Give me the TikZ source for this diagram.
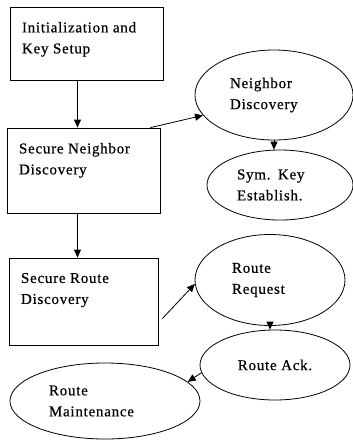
\documentclass[tikz,border=0pt]{standalone}
\usepackage{fontspec}
\setmainfont{Liberation Serif}[LetterSpace=5,FakeBold=0.5]
\usetikzlibrary{shapes.geometric,arrows.meta}

\newcommand{\boxtext}[3]{\begin{minipage}[t][#1][t]{#2}\vspace*{5pt}#3\end{minipage}}

\begin{document}
\begin{tikzpicture}[x=1pt,y=-1pt,
  stepbox/.style={draw, line width=0.8pt, inner xsep=12pt, inner ysep=10pt},
  phase/.style={draw, ellipse, line width=0.8pt, inner sep=0pt, align=left},
  flow/.style={-{Triangle[length=8pt,width=7pt]}, line width=0.8pt}]
\useasboundingbox (0,0) rectangle (353,440);
\fontsize{15}{21}\selectfont

% Boxes
\node[stepbox] (init) at (86.5,43.5) {\boxtext{53pt}{129pt}{Initialization and\\Key Setup}};
\node[stepbox] (secnb) at (83.5,170.5) {\boxtext{65pt}{129pt}{Secure Neighbor\\Discovery}};
\node[stepbox] (secrt) at (83.5,301.5) {\boxtext{67pt}{125pt}{Secure Route\\Discovery}};

% Ellipses
\node[phase, text width=88pt, minimum width=158pt, minimum height=90pt] (nbdisc) at (274,95) {Neighbor\\Discovery};
\node[phase, text width=86pt, minimum width=146pt, minimum height=70pt] (symkey) at (280,185) {Sym. Key\\Establish.};
\node[phase, text width=76pt, minimum width=150pt, minimum height=91pt] (rtreq) at (270,280) {Route\\Request};
\node[phase, minimum width=150pt, minimum height=70pt] (rtack) at (275,365) {Route Ack.};
\node[phase, text width=112pt, minimum width=190pt, minimum height=76pt] (rtmaint) at (105,401) {Route\\Maintenance};

% Arrows
\draw[flow] ([xshift=-9pt]init.south) -- ([xshift=-9pt]init.south |- secnb.north);
\draw[flow] ([xshift=-10pt]secnb.north east) -- (nbdisc.196);
\draw[flow] (nbdisc.south) -- (nbdisc.south |- symkey.north);
\draw[flow] ([xshift=-6pt]secnb.south) -- ([xshift=-6pt]secrt.north);
\draw[flow] ([shift={(4,17)}]secrt.east) -- (rtreq.183);
\draw[flow] (rtreq.south) -- (rtreq.south |- rtack.north);
\draw[flow] (rtack.186) -- (rtmaint.13);

\end{tikzpicture}
\end{document}
